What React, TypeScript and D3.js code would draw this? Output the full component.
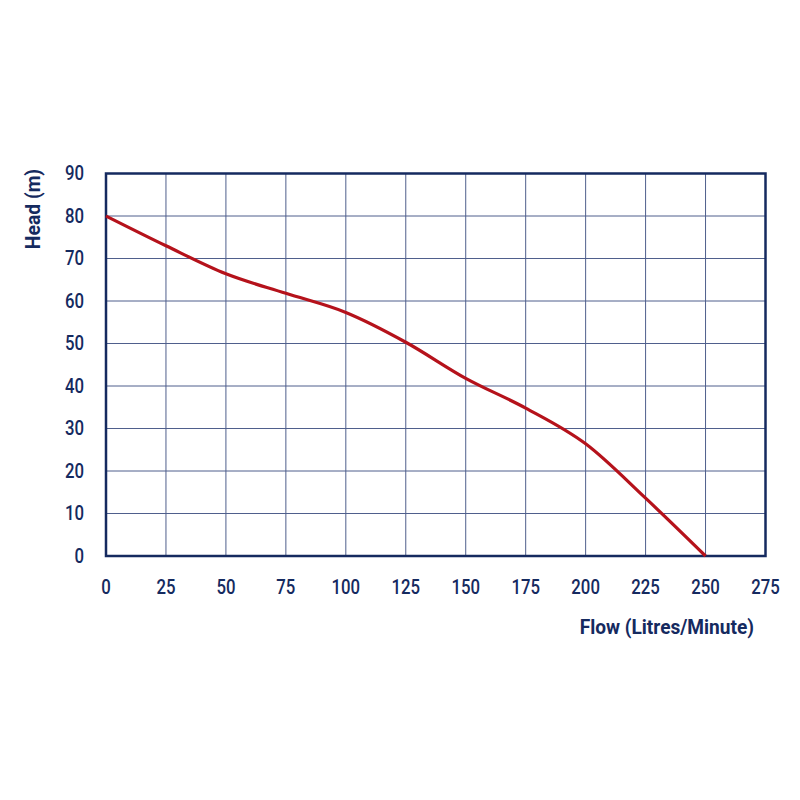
import React from "react";
import * as d3 from "d3";

const flowTicks = [0, 25, 50, 75, 100, 125, 150, 175, 200, 225, 250, 275];
const headTicks = [0, 10, 20, 30, 40, 50, 60, 70, 80, 90];
const flowValues = [0, 25, 50, 75, 100, 125, 150, 175, 200, 225, 250];
const headValues = [80, 73, 66.4, 61.8, 57.3, 50.3, 41.8, 34.8, 26.4, 13.6, 0];

const NAVY = "#152a5f";
const GRID = "#4f5f8c";
const RED = "#b5121b";
const FONT = "Roboto, 'Noto Sans', sans-serif";

export default function App() {
  const W = 800, H = 800;
  const left = 106, right = 765.5, top = 173.5, bottom = 556;
  const x = d3.scaleLinear().domain([0, 275]).range([left, right]);
  const y = d3.scaleLinear().domain([0, 90]).range([bottom, top]);
  const pts: [number, number][] = flowValues.map((f, i) => [f, headValues[i]]);
  const line = d3
    .line<[number, number]>()
    .x((d) => x(d[0]))
    .y((d) => y(d[1]))
    .curve(d3.curveMonotoneX);

  return (
    <svg width={W} height={H} style={{ position: "absolute", left: 0, top: 0, background: "#fff" }}>
      <rect x={0} y={0} width={W} height={H} fill="#fff" />
      {flowTicks.slice(1, -1).map((t) => (
        <line key={"vx" + t} x1={x(t)} x2={x(t)} y1={top} y2={bottom} stroke={GRID} strokeWidth={1} />
      ))}
      {headTicks.slice(1, -1).map((t) => (
        <line key={"hy" + t} x1={left} x2={right} y1={y(t)} y2={y(t)} stroke={GRID} strokeWidth={1} />
      ))}
      <rect x={left} y={top} width={right - left} height={bottom - top} fill="none" stroke={NAVY} strokeWidth={2.5} />
      <path d={line(pts) || ""} fill="none" stroke={RED} strokeWidth={3.2} strokeLinejoin="round" />
      {headTicks.map((t) => (
        <text
          key={"yl" + t}
          transform={`translate(${84},${y(t)}) scale(0.86,1)`}
          textAnchor="end"
          dominantBaseline="central"
          fontFamily={FONT}
          fontWeight={500}
          fontSize={19.5}
          fill={NAVY}
        >
          {t}
        </text>
      ))}
      {flowTicks.map((t) => (
        <text
          key={"xl" + t}
          transform={`translate(${x(t)},${587}) scale(0.86,1)`}
          textAnchor="middle"
          dominantBaseline="central"
          fontFamily={FONT}
          fontWeight={500}
          fontSize={19.5}
          fill={NAVY}
        >
          {t}
        </text>
      ))}
      <text
        transform={`translate(${754},${627}) scale(0.91,1)`}
        textAnchor="end"
        dominantBaseline="central"
        fontFamily={FONT}
        fontWeight={700}
        fontSize={21}
        fill={NAVY}
      >
        Flow (Litres/Minute)
      </text>
      <text
        transform={`translate(${33},${209}) rotate(-90) scale(0.92,1)`}
        textAnchor="middle"
        dominantBaseline="central"
        fontFamily={FONT}
        fontWeight={700}
        fontSize={21}
        fill={NAVY}
      >
        Head (m)
      </text>
    </svg>
  );
}
